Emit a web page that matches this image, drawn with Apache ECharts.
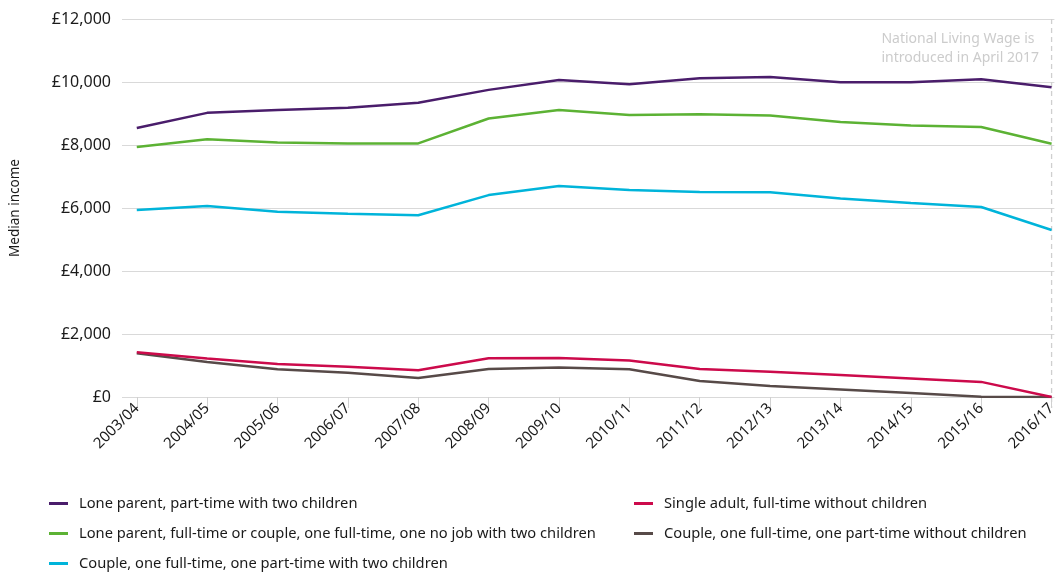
<!DOCTYPE html>
<html>
<head>
<meta charset="utf-8">
<script src="https://cdn.jsdelivr.net/npm/echarts@6/dist/echarts.min.js"></script>
<style>html,body{margin:0;padding:0;background:#fff}#c{width:1059px;height:572px}</style>
</head>
<body>
<div id="c"></div>
<script>
const categories = ['2003/04','2004/05','2005/06','2006/07','2007/08','2008/09','2009/10','2010/11','2011/12','2012/13','2013/14','2014/15','2015/16','2016/17'];
const seriesNames = [
  'Lone parent, part-time with two children',
  'Lone parent, full-time or couple, one full-time, one no job with two children',
  'Couple, one full-time, one part-time with two children',
  'Single adult, full-time without children',
  'Couple, one full-time, one part-time without children'
];
const loneParentPT = [8540, 9020, 9110, 9180, 9340, 9750, 10060, 9930, 10120, 10160, 9990, 9990, 10090, 9830];
const loneParentFT = [7940, 8180, 8080, 8050, 8050, 8840, 9110, 8950, 8980, 8940, 8730, 8620, 8570, 8040];
const coupleKids = [5940, 6060, 5880, 5820, 5770, 6410, 6700, 6570, 6510, 6500, 6300, 6160, 6030, 5300];
const singleAdult = [1420, 1220, 1050, 960, 850, 1230, 1240, 1160, 890, 800, 700, 590, 480, 0];
const coupleNoKids = [1390, 1110, 880, 770, 600, 890, 940, 880, 510, 350, 240, 130, 10, 0];
const yTicks = [0, 2000, 4000, 6000, 8000, 10000, 12000];
const annotation = ['National Living Wage is', 'introduced in April 2017'];

const colors = ['#4a1d6b', '#5cb234', '#00b4da', '#cc0a4b', '#574a48'];
const allData = [loneParentPT, loneParentFT, coupleKids, singleAdult, coupleNoKids];
const idx = categories.map((c, i) => i);

const chart = echarts.init(document.getElementById('c'), null, {renderer: 'canvas'});
const FONT = 'Noto Sans';

const series = allData.map((d, k) => ({
  name: seriesNames[k],
  type: 'line',
  data: d.map((v, i) => [i, v]),
  symbol: 'none',
  lineStyle: {color: colors[k], width: 2.5},
  itemStyle: {color: colors[k]},
  z: 10 - k
}));

// legend placement: [left, row center y]
const legendPos = [[49, 504], [49, 534], [49, 564], [634, 504], [634, 534]];
const legends = seriesNames.map((n, k) => ({
  left: legendPos[k][0], top: legendPos[k][1] - 8, padding: 0,
  icon: 'rect', itemWidth: 19, itemHeight: 3,
  textStyle: {fontSize: 14.7, color: '#1a1a1a', fontFamily: FONT, padding: [0, 0, 0, 6]},
  data: [n]
}));

chart.setOption({
  animation: false,
  textStyle: {fontFamily: FONT},
  grid: {left: 121, right: 1, top: 19, bottom: 175, containLabel: false},
  xAxis: {
    type: 'value', min: -0.21, max: categories.length - 1 + 0.04,
    axisLine: {show: false},
    splitLine: {show: false},
    axisTick: {show: true, customValues: idx, length: 11, lineStyle: {color: '#d0d0d0'}},
    axisLabel: {
      customValues: idx, rotate: 45, margin: 9,
      formatter: v => categories[Math.round(v)],
      fontSize: 15, color: '#1a1a1a', fontFamily: FONT
    }
  },
  yAxis: {
    type: 'value', min: yTicks[0], max: yTicks[yTicks.length - 1], interval: 2000,
    name: 'Median income', nameLocation: 'middle', nameGap: 100, nameRotate: 90,
    nameTextStyle: {fontSize: 13.5, color: '#1a1a1a', fontFamily: FONT},
    axisLine: {show: false}, axisTick: {show: false},
    splitLine: {lineStyle: {color: '#d9d9d9', width: 1.2}},
    axisLabel: {
      margin: 11, fontSize: 16, color: '#1a1a1a', fontFamily: FONT,
      formatter: v => '£' + v.toLocaleString('en-GB')
    }
  },
  legend: legends,
  series: series
});

// dashed reference line at the last category, via the chart's own scales
const lastX = chart.convertToPixel({xAxisIndex: 0}, categories.length - 1);
const topY = chart.convertToPixel({yAxisIndex: 0}, yTicks[yTicks.length - 1]);
const zeroY = chart.convertToPixel({yAxisIndex: 0}, 0);
chart.setOption({
  graphic: [
    {
      type: 'line', silent: true, z: 1,
      shape: {x1: lastX, y1: topY, x2: lastX, y2: zeroY + 11},
      style: {stroke: '#cfcfcf', lineWidth: 1.3, lineDash: [5, 4]}
    },
    {
      type: 'text', right: 20, top: 30, silent: true,
      style: {text: annotation.join('\n'), fill: '#cccccc', fontSize: 14, fontFamily: FONT, align: 'right', lineHeight: 19}
    }
  ]
});
</script>
</body>
</html>
